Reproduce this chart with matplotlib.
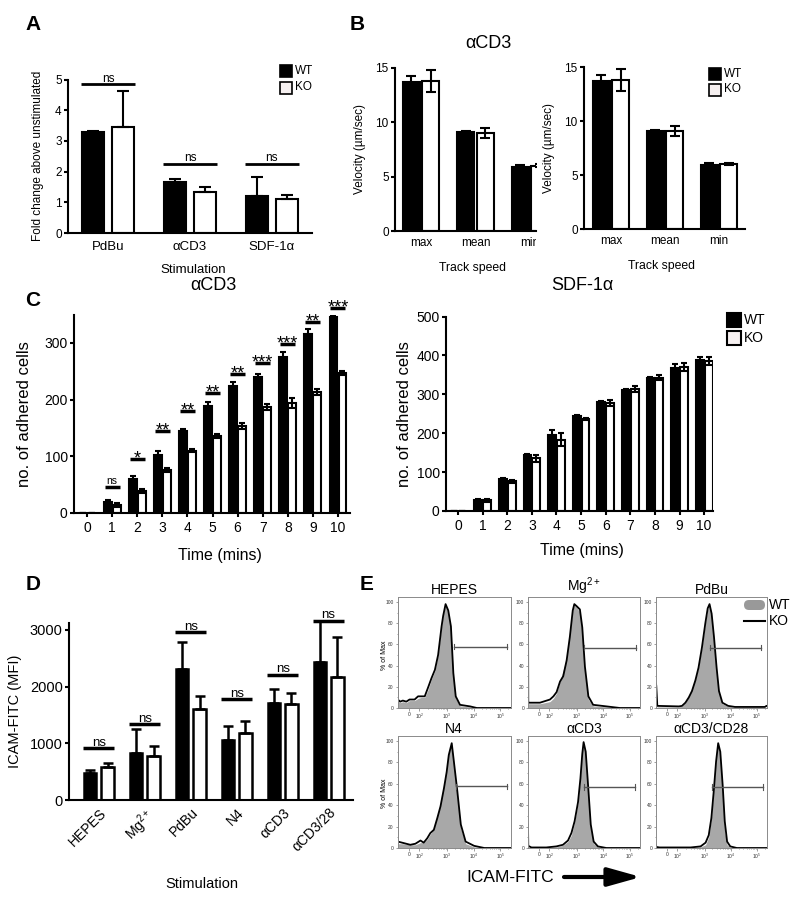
import numpy as np
import matplotlib
matplotlib.use('Agg')
import matplotlib.pyplot as plt
from matplotlib.patches import Rectangle, FancyBboxPatch
from matplotlib.transforms import Bbox, TransformedBbox

plt.rcParams['font.family'] = ['Liberation Sans', 'DejaVu Sans']
plt.rcParams['mathtext.fontset'] = 'custom'
plt.rcParams['mathtext.rm'] = 'Liberation Sans'
plt.rcParams['mathtext.it'] = 'Liberation Sans:italic'
plt.rcParams['mathtext.bf'] = 'Liberation Sans:bold'

# ---------------- data ----------------
a_groups = ['PdBu', 'αCD3', 'SDF-1α']
a_wt = [3.30, 1.67, 1.20]
a_wt_err = [0.03, 0.08, 0.63]
a_ko = [3.46, 1.35, 1.10]
a_ko_err = [1.17, 0.16, 0.14]
a_ns_y = [4.85, 2.26, 2.26]

b_groups = ['max', 'mean', 'min']
b_wt = [13.7, 9.1, 5.9]
b_wt_err = [0.6, 0.1, 0.2]
b_ko = [13.8, 9.05, 6.0]
b_ko_err = [1.0, 0.45, 0.12]

c_time = [0, 1, 2, 3, 4, 5, 6, 7, 8, 9, 10]
c_cd3_wt = [0, 20, 60, 102, 145, 189, 224, 239, 276, 316, 346]
c_cd3_wt_err = [0, 3, 6, 8, 3, 7, 7, 7, 8, 8, 3]
c_cd3_ko = [0, 14, 39, 76, 110, 136, 153, 187, 194, 213, 247]
c_cd3_ko_err = [0, 3, 3, 3, 3, 3, 5, 6, 8, 5, 4]
c_cd3_sig = ['', 'ns', '*', '**', '**', '**', '**', '***', '***', '**', '***']
c_cd3_sig_y = [0, 46, 95, 145, 180, 212, 245, 264, 298, 337, 362]
c_sdf_wt = [0, 28, 82, 143, 195, 245, 280, 310, 342, 367, 387]
c_sdf_wt_err = [0, 2, 3, 4, 12, 3, 2, 3, 3, 10, 10]
c_sdf_ko = [0, 27, 76, 136, 183, 237, 277, 313, 343, 370, 385]
c_sdf_ko_err = [0, 3, 3, 9, 17, 3, 8, 8, 6, 10, 10]

d_groups = ['HEPES', 'Mg$^{2+}$', 'PdBu', 'N4', 'αCD3', 'αCD3/28']
d_wt = [470, 824, 2306, 1059, 1706, 2429]
d_wt_err = [60, 429, 476, 247, 253, 759]
d_ko = [576, 782, 1600, 1188, 1694, 2165]
d_ko_err = [84, 177, 235, 212, 200, 705]
d_ns_y = [912, 1341, 2959, 1782, 2206, 3165]

# flow histograms (x in display decades: 10^3 -> 3)
e_titles = ['HEPES', 'Mg$^{2+}$', 'PdBu', 'N4', 'αCD3', 'αCD3/CD28']
e_hepes_u = [1.15, 1.16, 1.25, 1.35, 1.48, 1.60, 1.79, 1.92, 2.04, 2.17, 2.29, 2.42, 2.55, 2.67, 2.80, 2.86, 2.95, 3.05, 3.15, 3.24, 3.33, 3.49, 3.87, 4.12, 5.38]
e_hepes_ko = [100, 8, 6, 7, 6, 8, 8, 11, 11, 11, 19, 28, 36, 50, 77, 87, 98, 92, 77, 33, 11, 3, 1.5, 0, 0]
e_hepes_wt = [0, 6, 5, 6, 5, 7, 7, 9, 10, 10, 17, 27, 35, 50, 77, 88, 97, 90, 75, 30, 9, 2, 1, 0, 0]
e_mg_u = [1.15, 1.16, 1.20, 1.60, 1.98, 2.11, 2.23, 2.36, 2.48, 2.61, 2.73, 2.84, 2.90, 2.99, 3.11, 3.20, 3.30, 3.43, 3.61, 4.12, 4.62, 5.38]
e_mg_ko = [100, 5, 5, 5, 8, 11, 15, 25, 30, 45, 67, 92, 98, 96, 93, 76, 39, 11, 3, 1.5, 0, 0]
e_mg_wt = [0, 4, 4, 4, 6, 9, 14, 25, 36, 47, 70, 93, 97, 95, 90, 70, 33, 8, 2, 1, 0, 0]
e_pdbu_u = [1.15, 1.16, 1.20, 2.02, 2.14, 2.27, 2.40, 2.52, 2.65, 2.77, 2.90, 3.03, 3.12, 3.19, 3.27, 3.36, 3.46, 3.55, 3.68, 3.90, 4.16, 5.30, 5.36, 5.38]
e_pdbu_ko = [23, 21, 2, 1.5, 2, 5, 10, 16, 26, 38, 57, 80, 94, 98, 89, 67, 38, 16, 5, 2, 1, 1, 2, 2]
e_pdbu_wt = [0, 0, 1, 1, 2, 5, 11, 18, 27, 38, 57, 80, 93, 97, 87, 63, 35, 14, 4, 1.5, 0.5, 0, 0, 0]
e_n4_u = [1.15, 1.16, 1.32, 1.63, 1.82, 2.01, 2.13, 2.26, 2.38, 2.51, 2.64, 2.76, 2.89, 2.99, 3.07, 3.18, 3.26, 3.39, 3.52, 3.70, 4.02, 4.40, 5.38]
e_n4_ko = [95, 6, 5, 3, 4, 7, 5, 9, 14, 17, 28, 39, 56, 71, 87, 98, 81, 53, 22, 6, 2, 0, 0]
e_n4_wt = [0, 4, 4, 3, 3, 5, 5, 8, 13, 18, 30, 42, 60, 76, 90, 97, 78, 48, 18, 4, 1, 0, 0]
e_cd3_u = [1.15, 1.16, 1.28, 1.84, 2.22, 2.47, 2.66, 2.79, 2.91, 3.04, 3.13, 3.20, 3.25, 3.33, 3.41, 3.52, 3.63, 3.79, 4.11, 5.38]
e_cd3_ko = [22, 2, 0.5, 0.5, 1.5, 3, 7, 14, 25, 43, 65, 88, 99, 90, 62, 22, 6, 1.5, 0, 0]
e_cd3_wt = [0, 0, 0.5, 0.5, 1, 2.5, 6, 12, 24, 42, 66, 90, 98, 86, 55, 17, 4, 1, 0, 0]
e_cd28_u = [1.15, 1.16, 1.28, 2.47, 2.85, 3.04, 3.16, 3.26, 3.35, 3.44, 3.52, 3.60, 3.69, 3.77, 3.86, 3.98, 4.23, 5.38]
e_cd28_ko = [3, 1, 0.5, 0.5, 1.5, 5, 12, 28, 53, 81, 98, 90, 59, 25, 6, 1.5, 0, 0]
e_cd28_wt = [0, 0, 0.5, 0.5, 1, 3, 10, 27, 55, 84, 97, 85, 48, 15, 3, 0.5, 0, 0]
e_gate_lo = [3.27, 3.26, 3.21, 3.33, 3.26, 3.29]
e_gate_hi = [5.25, 5.23, 5.16, 5.25, 5.21, 5.21]
e_gate_y = [58, 57, 57, 57.5, 57, 57]
e_xticks = [1.58, 1.96, 3, 4, 5]
e_xticklabels = ['0', '$10^2$', '$10^3$', '$10^4$', '$10^5$']

# ---------------- figure ----------------
W, H = 800, 898
fig = plt.figure(figsize=(W / 100, H / 100), dpi=100)


def add_ax(x0, x1, y0, y1):
    return fig.add_axes([x0 / W, 1 - y1 / H, (x1 - x0) / W, (y1 - y0) / H])


def prism(ax, lw=1.5, tl=3, ts=8.5):
    for s in ['top', 'right']:
        ax.spines[s].set_visible(False)
    for s in ['left', 'bottom']:
        ax.spines[s].set_linewidth(lw)
    ax.tick_params(width=lw, length=tl, direction='out', labelsize=ts, pad=1.5)


def draw_bars(ax, x, wt, wte, ko, koe, off, width, lw, cap, up_only):
    x = np.asarray(x, float)
    if up_only:
        ew = [np.zeros(len(wt)), wte]
        ek = [np.zeros(len(ko)), koe]
    else:
        ew, ek = wte, koe
    ekw = dict(ecolor='black', elinewidth=lw, capsize=cap, capthick=lw)
    ax.bar(x - off, wt, width, color='black', edgecolor='black', linewidth=lw,
           yerr=ew, error_kw=ekw)
    ax.bar(x + off, ko, width, color='white', edgecolor='black', linewidth=lw,
           yerr=ek, error_kw=ekw)


def sig(ax, x, y, txt, half, lw, fs):
    ax.plot([x - half, x + half], [y, y], color='black', lw=lw,
            solid_capstyle='butt', clip_on=False)
    dy = -3.2 if '*' in txt else 1.8
    ax.annotate(txt, xy=(x, y), xytext=(0, dy), textcoords='offset points',
                ha='center', va='baseline', fontsize=fs, annotation_clip=False)


# ---- Panel A ----
axA = add_ax(68, 312, 233 - 5 * 30.7, 233)
prism(axA)
xa = np.arange(len(a_groups))
draw_bars(axA, xa, a_wt, a_wt_err, a_ko, a_ko_err, 0.185, 0.27, 1.5, 4.5, True)
axA.set_xlim(-0.49, 2.49)
axA.set_ylim(0, 5)
axA.set_yticks([0, 1, 2, 3, 4, 5])
axA.set_xticks(xa)
axA.set_xticklabels(a_groups, fontsize=9.5)
axA.tick_params(axis='x', length=0, pad=6)
for i in range(len(a_groups)):
    sig(axA, xa[i], a_ns_y[i], 'ns', 0.33, 2.0, 8.5)
axA.set_ylabel('Fold change above unstimulated', fontsize=8.5)
axA.yaxis.set_label_coords(-0.098, 0.5)
axA.set_xlabel('Stimulation', fontsize=9.5)
axA.xaxis.set_label_coords(0.512, -0.2)

# ---- Panel B ----
for (x0, x1, y0, y1, xl, lab_x, lab_y, xlab_x) in [
        (395, 536, 68, 231, (-0.48, 2.11), -0.206, -0.19, 0.553),
        (584, 745, 67, 229, (-0.5, 2.48), -0.18, -0.19, 0.484)]:
    ax = add_ax(x0, x1, y0, y1)
    prism(ax)
    xb = np.arange(len(b_groups))
    draw_bars(ax, xb, b_wt, b_wt_err, b_ko, b_ko_err, 0.18, 0.31, 1.5, 3.3, False)
    ax.set_xlim(*xl)
    ax.set_ylim(0, 15)
    ax.set_yticks([0, 5, 10, 15])
    ax.set_xticks(xb)
    ax.set_xticklabels(b_groups, fontsize=8.5)
    ax.tick_params(axis='x', length=0, pad=4)
    ax.set_ylabel('Velocity (µm/sec)', fontsize=8.5)
    ax.yaxis.set_label_coords(lab_x, 0.5)
    ax.set_xlabel('Track speed', fontsize=8.8)
    ax.xaxis.set_label_coords(xlab_x, lab_y)
    if x1 == 536:
        clipbb = TransformedBbox(Bbox([[0, 0], [536 / W, 1]]), fig.transFigure)
        for lbl in ax.get_xticklabels():
            lbl.set_clip_on(True)
            lbl.set_clip_box(clipbb)

# ---- Panel C ----
axC1 = add_ax(74, 350, 513 - 350 * 0.567, 513)
prism(axC1, ts=10)
draw_bars(axC1, c_time, c_cd3_wt, c_cd3_wt_err, c_cd3_ko, c_cd3_ko_err,
          0.18, 0.31, 1.5, 2.0, False)
axC1.set_xlim(-0.52, 10.48)
axC1.set_ylim(0, 350)
axC1.set_yticks([0, 100, 200, 300])
axC1.set_xticks(c_time)
axC1.tick_params(axis='x', length=3, pad=3)
for i in range(1, len(c_time)):
    sig(axC1, c_time[i], c_cd3_sig_y[i], c_cd3_sig[i], 0.3, 2.5,
        13 if '*' in c_cd3_sig[i] else 7.5)
axC1.set_ylabel('no. of adhered cells', fontsize=12)
axC1.yaxis.set_label_coords(-0.152, 0.5)
axC1.set_xlabel('Time (mins)', fontsize=11.5)
axC1.xaxis.set_label_coords(0.53, -0.176)

axC2 = add_ax(446, 713, 511 - 500 * 0.389, 511)
prism(axC2, ts=10)
draw_bars(axC2, c_time, c_sdf_wt, c_sdf_wt_err, c_sdf_ko, c_sdf_ko_err,
          0.18, 0.32, 1.5, 2.0, False)
axC2.set_xlim(-0.49, 10.36)
axC2.set_ylim(0, 500)
axC2.set_yticks([0, 100, 200, 300, 400, 500])
axC2.set_xticks(c_time)
axC2.tick_params(axis='x', length=3, pad=3)
axC2.set_ylabel('no. of adhered cells', fontsize=12)
axC2.yaxis.set_label_coords(-0.127, 0.5)
axC2.set_xlabel('Time (mins)', fontsize=11.5)
axC2.xaxis.set_label_coords(0.51, -0.165)

# ---- Panel D ----
axD = add_ax(69, 353, 623.3, 800)
prism(axD, ts=10.5)
xd = np.arange(len(d_groups))
draw_bars(axD, xd, d_wt, d_wt_err, d_ko, d_ko_err, 0.19, 0.27, 1.8, 3.3, True)
axD.set_xlim(-0.65, 5.53)
axD.set_ylim(0, 3118)
axD.set_yticks([0, 1000, 2000, 3000])
axD.set_xticks(xd)
axD.set_xticklabels(d_groups, rotation=45, ha='right', rotation_mode='anchor',
                    fontsize=10)
axD.tick_params(axis='x', length=0, pad=4)
for i in range(len(d_groups)):
    sig(axD, xd[i], d_ns_y[i], 'ns', 0.34, 2.5, 9.5)
axD.set_ylabel('ICAM-FITC (MFI)', fontsize=10.5)
axD.yaxis.set_label_coords(-0.165, 0.5)
axD.set_xlabel('Stimulation', fontsize=10.5)
axD.xaxis.set_label_coords(0.468, -0.436)

# ---- Panel E ----
e_u = [e_hepes_u, e_mg_u, e_pdbu_u, e_n4_u, e_cd3_u, e_cd28_u]
e_ko = [e_hepes_ko, e_mg_ko, e_pdbu_ko, e_n4_ko, e_cd3_ko, e_cd28_ko]
e_wt = [e_hepes_wt, e_mg_wt, e_pdbu_wt, e_n4_wt, e_cd3_wt, e_cd28_wt]
cols = [(397.5, 510.5), (528, 640), (656, 767)]
rows = [(597, 708), (736, 848)]
minor_u = [d + np.log10(k) for d in (2, 3, 4) for k in range(2, 10)] + [5.301]
for k in range(6):
    r, c = divmod(k, 3)
    ax = add_ax(cols[c][0], cols[c][1], rows[r][0], rows[r][1])
    ax.fill_between(e_u[k], e_wt[k], 0, color='#a8a8a8', lw=0)
    ax.plot(e_u[k], e_ko[k], color='black', lw=1.3)
    ax.plot([e_gate_lo[k], e_gate_hi[k]], [e_gate_y[k]] * 2, color='#555555', lw=1.0)
    for gx in (e_gate_lo[k], e_gate_hi[k]):
        ax.plot([gx, gx], [e_gate_y[k] - 2.5, e_gate_y[k] + 2.5], color='#555555', lw=0.8)
    ax.set_xlim(1.15, 5.38)
    ax.set_ylim(0, 104.7)
    for s in ax.spines.values():
        s.set_linewidth(0.7)
        s.set_color('#8a8a8a')
    ax.set_yticks([0, 20, 40, 60, 80, 100])
    ax.set_yticks(range(10, 100, 20), minor=True)
    ax.set_xticks(e_xticks)
    ax.set_xticklabels(e_xticklabels)
    ax.set_xticks(minor_u, minor=True)
    ax.tick_params(which='both', labelsize=3.5, length=1.8, width=0.5,
                   color='#777777', pad=1, labelcolor='#333333')
    ax.tick_params(which='minor', length=1.0)
    ax.set_title(e_titles[k], fontsize=10, pad=1.5)

# ---- overlay (letters, legends, arrow) ----
ov = fig.add_axes([0, 0, 1, 1])
ov.set_xlim(0, W)
ov.set_ylim(H, 0)
ov.axis('off')
ov.patch.set_alpha(0)
for (lx, ly, L) in [(33, 25, 'A'), (357, 25, 'B'), (33, 300, 'C'), (33, 585, 'D'), (367, 585, 'E')]:
    ov.text(lx, ly, L, fontsize=15, fontweight='bold', ha='center', va='center')
ov.text(488, 43, 'αCD3', fontsize=13, ha='center', va='center')
ov.text(213, 286, 'αCD3', fontsize=13, ha='center', va='center')
ov.text(582, 285, 'SDF-1α', fontsize=13, ha='center', va='center')


def legend_sq(x, y, s, gap, fs, lw):
    ov.add_patch(Rectangle((x, y), s, s, fc='black', ec='black', lw=lw))
    ov.add_patch(Rectangle((x, y + s + gap), s, s, fc='#f6f0f0', ec='black', lw=lw))
    ov.text(x + s + 3, y + s / 2, 'WT', fontsize=fs, va='center', ha='left')
    ov.text(x + s + 3, y + 1.5 * s + gap, 'KO', fontsize=fs, va='center', ha='left')


legend_sq(280, 65, 12, 4.5, 8.5, 1.2)
legend_sq(709, 68, 12, 3.5, 8.5, 1.2)
legend_sq(727, 313, 14, 3.5, 10, 1.5)

ov.add_patch(FancyBboxPatch((744, 600), 21, 10, boxstyle='round,pad=0,rounding_size=5',
                            fc='#999999', ec='none'))
ov.plot([744, 765], [621, 621], color='black', lw=1.5)
ov.text(769, 605, 'WT', fontsize=10, va='center', ha='left')
ov.text(769, 621, 'KO', fontsize=10, va='center', ha='left')
ov.text(385, 655, '% of Max', rotation=90, fontsize=5, ha='center', va='center')
ov.text(385, 793, '% of Max', rotation=90, fontsize=5, ha='center', va='center')
ov.text(510, 877, 'ICAM-FITC', fontsize=12.5, ha='center', va='center')
ov.annotate('', xy=(641, 877), xytext=(564, 877),
            arrowprops=dict(arrowstyle='-|>,head_length=1.0,head_width=0.28',
                            mutation_scale=20, lw=3, color='black', shrinkA=0, shrinkB=0))

fig.savefig('out.png', dpi=100)
